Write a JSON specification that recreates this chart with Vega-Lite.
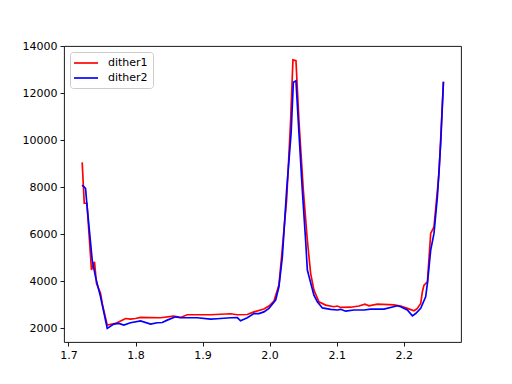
{
  "$schema": "https://vega.github.io/schema/vega-lite/v6.json",
  "width": 397,
  "height": 296,
  "autosize": {"type": "none"},
  "padding": {"left": 64, "top": 46, "right": 51, "bottom": 42},
  "background": "white",
  "config": {
    "view": {"stroke": "black", "strokeWidth": 0.9},
    "axis": {
      "domain": false,
      "grid": false,
      "ticks": true,
      "tickColor": "black",
      "tickSize": 4,
      "tickWidth": 0.9,
      "labelFont": "DejaVu Sans",
      "labelFontSize": 11,
      "labelColor": "black",
      "labelPadding": 3,
      "title": null
    },
    "legend": {
      "labelFont": "DejaVu Sans",
      "labelFontSize": 11,
      "labelColor": "black"
    }
  },
  "data": {
    "values": [
      {"x": 1.7204, "y": 9050, "s": "dither1"},
      {"x": 1.7235, "y": 7310, "s": "dither1"},
      {"x": 1.7275, "y": 7310, "s": "dither1"},
      {"x": 1.7343, "y": 4470, "s": "dither1"},
      {"x": 1.7388, "y": 4820, "s": "dither1"},
      {"x": 1.7418, "y": 3900, "s": "dither1"},
      {"x": 1.7478, "y": 3480, "s": "dither1"},
      {"x": 1.7503, "y": 3050, "s": "dither1"},
      {"x": 1.7578, "y": 2130, "s": "dither1"},
      {"x": 1.7701, "y": 2200, "s": "dither1"},
      {"x": 1.7801, "y": 2340, "s": "dither1"},
      {"x": 1.7851, "y": 2410, "s": "dither1"},
      {"x": 1.7925, "y": 2380, "s": "dither1"},
      {"x": 1.8, "y": 2410, "s": "dither1"},
      {"x": 1.8075, "y": 2455, "s": "dither1"},
      {"x": 1.8373, "y": 2440, "s": "dither1"},
      {"x": 1.8567, "y": 2510, "s": "dither1"},
      {"x": 1.8672, "y": 2455, "s": "dither1"},
      {"x": 1.8772, "y": 2570, "s": "dither1"},
      {"x": 1.9119, "y": 2570, "s": "dither1"},
      {"x": 1.9418, "y": 2610, "s": "dither1"},
      {"x": 1.9518, "y": 2570, "s": "dither1"},
      {"x": 1.9667, "y": 2580, "s": "dither1"},
      {"x": 1.9766, "y": 2690, "s": "dither1"},
      {"x": 1.9915, "y": 2810, "s": "dither1"},
      {"x": 1.999, "y": 2940, "s": "dither1"},
      {"x": 2.0065, "y": 3150, "s": "dither1"},
      {"x": 2.0139, "y": 3830, "s": "dither1"},
      {"x": 2.0184, "y": 5200, "s": "dither1"},
      {"x": 2.0254, "y": 7450, "s": "dither1"},
      {"x": 2.0313, "y": 10800, "s": "dither1"},
      {"x": 2.0348, "y": 13410, "s": "dither1"},
      {"x": 2.0393, "y": 13380, "s": "dither1"},
      {"x": 2.044, "y": 10700, "s": "dither1"},
      {"x": 2.0503, "y": 7870, "s": "dither1"},
      {"x": 2.0563, "y": 5740, "s": "dither1"},
      {"x": 2.0612, "y": 4330, "s": "dither1"},
      {"x": 2.0661, "y": 3620, "s": "dither1"},
      {"x": 2.0736, "y": 3120, "s": "dither1"},
      {"x": 2.0836, "y": 2980, "s": "dither1"},
      {"x": 2.096, "y": 2910, "s": "dither1"},
      {"x": 2.101, "y": 2940, "s": "dither1"},
      {"x": 2.106, "y": 2880, "s": "dither1"},
      {"x": 2.1209, "y": 2890, "s": "dither1"},
      {"x": 2.1333, "y": 2940, "s": "dither1"},
      {"x": 2.1422, "y": 3020, "s": "dither1"},
      {"x": 2.1482, "y": 2950, "s": "dither1"},
      {"x": 2.1607, "y": 3020, "s": "dither1"},
      {"x": 2.1855, "y": 2990, "s": "dither1"},
      {"x": 2.1955, "y": 2940, "s": "dither1"},
      {"x": 2.2055, "y": 2840, "s": "dither1"},
      {"x": 2.2154, "y": 2740, "s": "dither1"},
      {"x": 2.2204, "y": 2840, "s": "dither1"},
      {"x": 2.2254, "y": 3050, "s": "dither1"},
      {"x": 2.2279, "y": 3550, "s": "dither1"},
      {"x": 2.2303, "y": 3830, "s": "dither1"},
      {"x": 2.2354, "y": 3970, "s": "dither1"},
      {"x": 2.2403, "y": 6030, "s": "dither1"},
      {"x": 2.2452, "y": 6310, "s": "dither1"},
      {"x": 2.2527, "y": 8580, "s": "dither1"},
      {"x": 2.2593, "y": 12480, "s": "dither1"},

      {"x": 1.7204, "y": 8085, "s": "dither2"},
      {"x": 1.7254, "y": 7940, "s": "dither2"},
      {"x": 1.7275, "y": 7250, "s": "dither2"},
      {"x": 1.7354, "y": 4890, "s": "dither2"},
      {"x": 1.7403, "y": 4180, "s": "dither2"},
      {"x": 1.7478, "y": 3330, "s": "dither2"},
      {"x": 1.7578, "y": 1990, "s": "dither2"},
      {"x": 1.7676, "y": 2170, "s": "dither2"},
      {"x": 1.7751, "y": 2200, "s": "dither2"},
      {"x": 1.7825, "y": 2130, "s": "dither2"},
      {"x": 1.7925, "y": 2230, "s": "dither2"},
      {"x": 1.8075, "y": 2310, "s": "dither2"},
      {"x": 1.8224, "y": 2170, "s": "dither2"},
      {"x": 1.8324, "y": 2230, "s": "dither2"},
      {"x": 1.8399, "y": 2240, "s": "dither2"},
      {"x": 1.8473, "y": 2340, "s": "dither2"},
      {"x": 1.8597, "y": 2480, "s": "dither2"},
      {"x": 1.8672, "y": 2440, "s": "dither2"},
      {"x": 1.892, "y": 2440, "s": "dither2"},
      {"x": 1.9119, "y": 2380, "s": "dither2"},
      {"x": 1.9219, "y": 2400, "s": "dither2"},
      {"x": 1.9418, "y": 2440, "s": "dither2"},
      {"x": 1.9518, "y": 2450, "s": "dither2"},
      {"x": 1.9567, "y": 2310, "s": "dither2"},
      {"x": 1.9667, "y": 2440, "s": "dither2"},
      {"x": 1.9766, "y": 2620, "s": "dither2"},
      {"x": 1.984, "y": 2620, "s": "dither2"},
      {"x": 1.9915, "y": 2690, "s": "dither2"},
      {"x": 1.999, "y": 2840, "s": "dither2"},
      {"x": 2.009, "y": 3190, "s": "dither2"},
      {"x": 2.0139, "y": 3760, "s": "dither2"},
      {"x": 2.019, "y": 5030, "s": "dither2"},
      {"x": 2.0254, "y": 7870, "s": "dither2"},
      {"x": 2.0321, "y": 10300, "s": "dither2"},
      {"x": 2.0354, "y": 12454, "s": "dither2"},
      {"x": 2.0393, "y": 12520, "s": "dither2"},
      {"x": 2.044, "y": 10200, "s": "dither2"},
      {"x": 2.0488, "y": 7870, "s": "dither2"},
      {"x": 2.0537, "y": 5740, "s": "dither2"},
      {"x": 2.0563, "y": 4470, "s": "dither2"},
      {"x": 2.0661, "y": 3400, "s": "dither2"},
      {"x": 2.0712, "y": 3120, "s": "dither2"},
      {"x": 2.0787, "y": 2860, "s": "dither2"},
      {"x": 2.091, "y": 2800, "s": "dither2"},
      {"x": 2.101, "y": 2770, "s": "dither2"},
      {"x": 2.106, "y": 2800, "s": "dither2"},
      {"x": 2.1134, "y": 2720, "s": "dither2"},
      {"x": 2.1258, "y": 2770, "s": "dither2"},
      {"x": 2.1407, "y": 2770, "s": "dither2"},
      {"x": 2.1507, "y": 2810, "s": "dither2"},
      {"x": 2.1706, "y": 2810, "s": "dither2"},
      {"x": 2.1906, "y": 2950, "s": "dither2"},
      {"x": 2.1955, "y": 2910, "s": "dither2"},
      {"x": 2.2055, "y": 2770, "s": "dither2"},
      {"x": 2.213, "y": 2520, "s": "dither2"},
      {"x": 2.2179, "y": 2620, "s": "dither2"},
      {"x": 2.2254, "y": 2840, "s": "dither2"},
      {"x": 2.2328, "y": 3330, "s": "dither2"},
      {"x": 2.2354, "y": 3900, "s": "dither2"},
      {"x": 2.2403, "y": 5320, "s": "dither2"},
      {"x": 2.2452, "y": 6030, "s": "dither2"},
      {"x": 2.2503, "y": 7590, "s": "dither2"},
      {"x": 2.2552, "y": 9860, "s": "dither2"},
      {"x": 2.2593, "y": 12480, "s": "dither2"}
    ]
  },
  "mark": {"type": "line", "strokeWidth": 1.67, "clip": true},
  "encoding": {
    "x": {
      "field": "x",
      "type": "quantitative",
      "scale": {"domain": [1.6933, 2.2855], "nice": false, "zero": false},
      "axis": {"values": [1.7, 1.8, 1.9, 2.0, 2.1, 2.2], "format": ".1f"}
    },
    "y": {
      "field": "y",
      "type": "quantitative",
      "scale": {"domain": [1410, 14000], "nice": false, "zero": false},
      "axis": {"values": [2000, 4000, 6000, 8000, 10000, 12000, 14000], "format": "d"}
    },
    "color": {
      "field": "s",
      "type": "nominal",
      "scale": {"domain": ["dither1", "dither2"], "range": ["#ff0000", "#0000ff"]},
      "legend": {
        "title": null,
        "orient": "none",
        "legendX": 6,
        "legendY": 6,
        "symbolType": "M-1.4,0H3.4",
        "symbolSize": 100,
        "symbolStrokeWidth": 1.67,
        "fillColor": "white",
        "strokeColor": "#cccccc",
        "cornerRadius": 3,
        "padding": 5,
        "rowPadding": 4,
        "labelOffset": 21
      }
    },
    "order": {"field": "x", "type": "quantitative"}
  }
}
